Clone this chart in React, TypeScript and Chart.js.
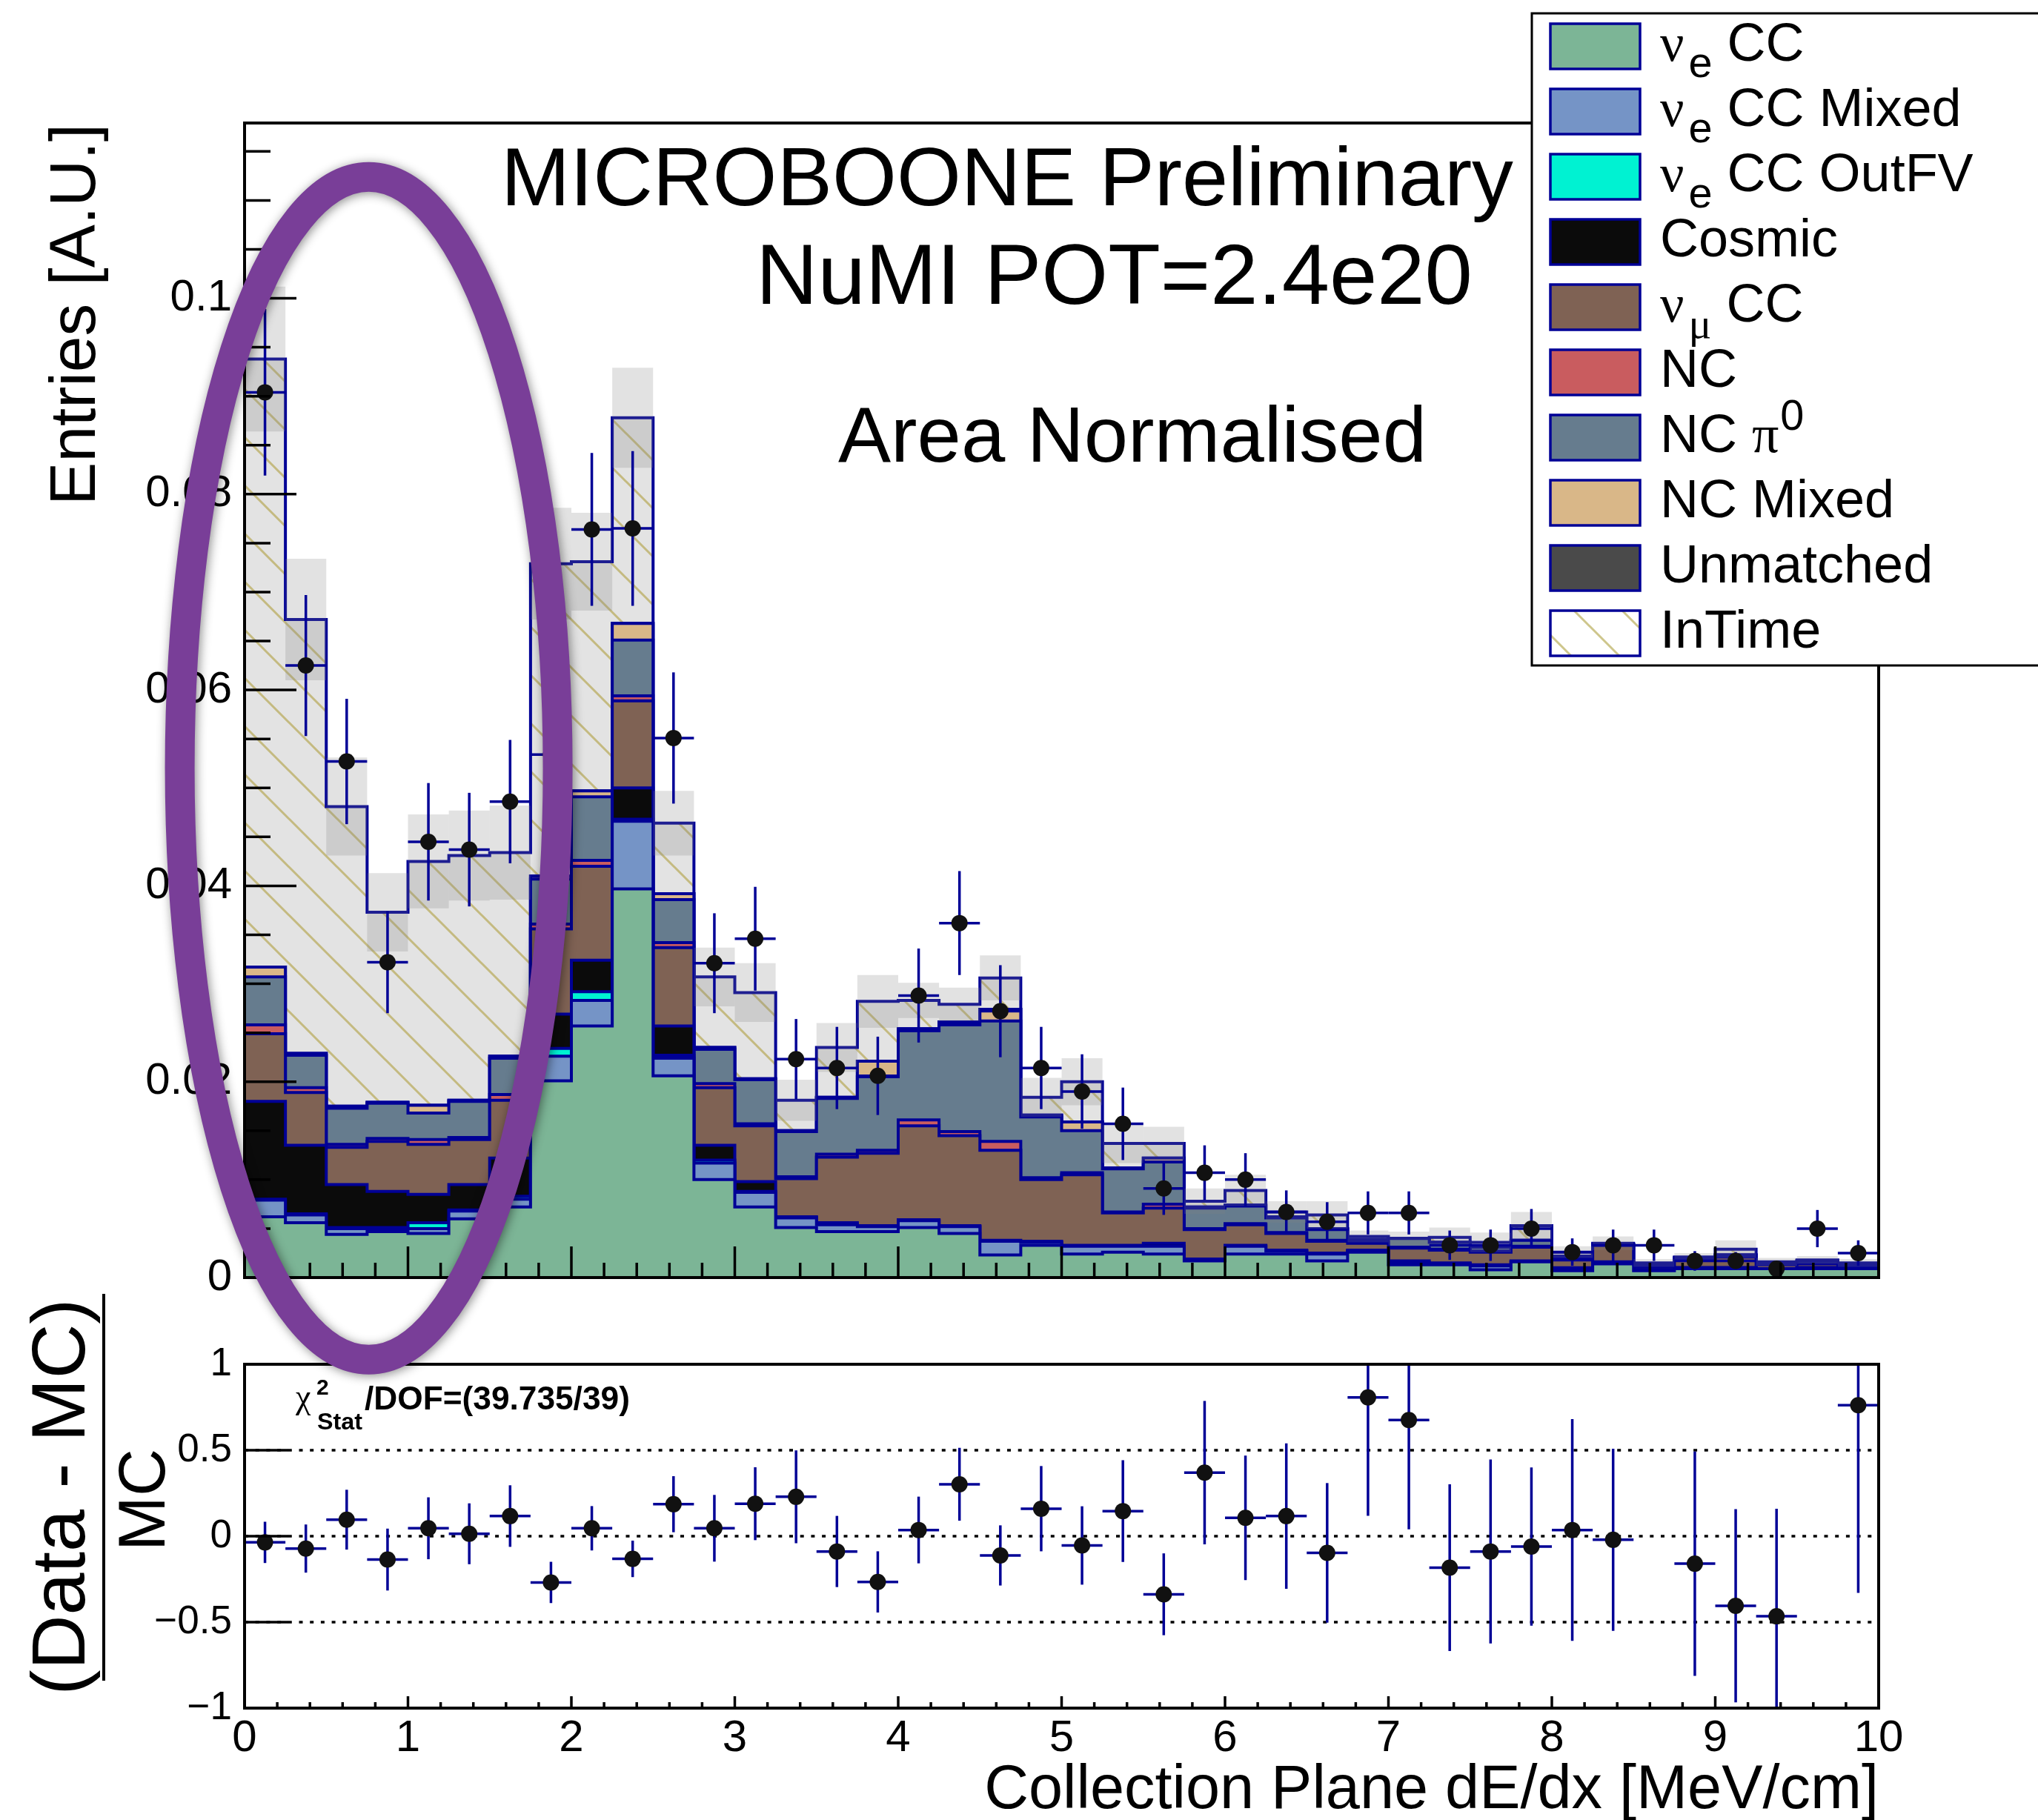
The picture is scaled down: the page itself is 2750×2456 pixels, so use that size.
import React, { useEffect, useRef } from "react";
import { Chart, registerables } from "chart.js";

Chart.register(...registerables);

const SANS = '"Liberation Sans", Arial, Helvetica, sans-serif';
const SERIF = '"Liberation Serif", "DejaVu Serif", "Times New Roman", serif';
const NAVY = "rgb(0,0,150)";

// dE/dx binning (MeV/cm)
const binEdges = [
  0, 0.25, 0.5, 0.75, 1, 1.25, 1.5, 1.75, 2, 2.25, 2.5, 2.75, 3, 3.25, 3.5, 3.75, 4, 4.25, 4.5, 4.75, 5,
  5.25, 5.5, 5.75, 6, 6.25, 6.5, 6.75, 7, 7.25, 7.5, 7.75, 8, 8.25, 8.5, 8.75, 9, 9.25, 9.5, 9.75, 10,
];

// Stacked MC components (area normalised)
const nueCC = [
  0.0062, 0.0056, 0.0044, 0.0047, 0.0045, 0.006, 0.0072, 0.0201, 0.0257, 0.0397, 0.0206, 0.01, 0.0072, 0.0051,
  0.0047, 0.0047, 0.0051, 0.0045, 0.0023, 0.0033, 0.0024, 0.0026, 0.0024, 0.0017, 0.0024, 0.0024, 0.0017, 0.0026,
  0.0013, 0.0013, 0.0008, 0.0016, 0.0007, 0.0014, 0.0007, 0.0009, 0.0009, 0.0009, 0.0009, 0.0009,
];
const nueCCMixed = [
  0.0017, 0.0008, 0.0006, 0.0003, 0.0005, 0.0008, 0.0008, 0.0025, 0.0026, 0.0069, 0.0018, 0.0017, 0.0015, 0.001,
  0.0007, 0.0005, 0.0007, 0.0007, 0.0014, 0.0003, 0.0008, 0.0006, 0.0008, 0.0001, 0.0008, 0.0003, 0.0007, 0.0001,
  0.0002, 0.0001, 0.0004, 0.0, 0.0002, 0.0001, 0.0001, 0.0001, 0.0001, 0.0, 0.0001, 0.0001,
];
const nueCCOutFV = [
  0.0001, 0.0001, 0.0001, 0.0001, 0.0006, 0.0001, 0.0003, 0.0008, 0.0009, 0.0002, 0.0003, 0.0003, 0.0001, 0, 0, 0,
  0, 0, 0, 0, 0, 0, 0, 0, 0, 0, 0, 0, 0, 0, 0, 0, 0, 0, 0, 0, 0, 0, 0, 0,
];
const cosmic = [
  0.01, 0.007, 0.0044, 0.0037, 0.0029, 0.0026, 0.0039, 0.0035, 0.0032, 0.0032, 0.003, 0.0015, 0.001, 0.0001, 0.0002,
  0.0001, 0.0001, 0.0001, 0.0001, 0.0001, 0.0001, 0.0001, 0.0003, 0.0001, 0.0001, 0.0001, 0.0001, 0.0001, 0.0002,
  0.0001, 0.0001, 0.0001, 0.0001, 0.0001, 0, 0, 0, 0, 0, 0,
];
const numuCC = [
  0.0069, 0.0054, 0.0038, 0.0051, 0.0051, 0.0046, 0.0059, 0.0087, 0.0096, 0.0089, 0.008, 0.0059, 0.0057, 0.0039,
  0.0067, 0.0074, 0.0096, 0.0092, 0.0092, 0.0063, 0.0072, 0.0033, 0.0036, 0.003, 0.0021, 0.0017, 0.0012, 0.0007,
  0.0013, 0.0013, 0.0013, 0.0014, 0.0008, 0.0017, 0.0003, 0.0008, 0.0011, 0.0004, 0.0004, 0.0002,
];
const nc = [
  0.0009, 0.0005, 0.0003, 0.0003, 0.0005, 0.0002, 0.0006, 0.0005, 0.0006, 0.0005, 0.0005, 0.0004, 0.0002, 0.0002,
  0.0003, 0.0003, 0.0006, 0.0004, 0.0009, 0.0002, 0.0002, 0.0001, 0.0004, 0.0001, 0.0001, 0.0001, 0.0001, 0.0001,
  0.0001, 0.0001, 0.0001, 0.0001, 0.0001, 0, 0, 0, 0, 0, 0, 0,
];
const ncPi0 = [
  0.0049, 0.0033, 0.0037, 0.0036, 0.0027, 0.0037, 0.0037, 0.0046, 0.0065, 0.0057, 0.0044, 0.0035, 0.0045, 0.0046,
  0.0057, 0.0075, 0.0091, 0.0109, 0.0123, 0.0062, 0.0043, 0.0044, 0.0043, 0.0021, 0.0018, 0.0015, 0.0011, 0.0002,
  0.0009, 0.0007, 0.0004, 0.0006, 0.0003, 0.0001, 0.0002, 0.0002, 0.0002, 0.0002, 0.0003, 0.0002,
];
const ncMixed = [
  0.001, 0.0002, 0.0002, 0.0001, 0.0008, 0.0001, 0.0002, 0.0003, 0.0006, 0.0017, 0.0006, 0.0002, 0.0001, 0.0001,
  0.0001, 0.0016, 0.0002, 0.0003, 0.0012, 0.0002, 0.0009, 0.0001, 0.0004, 0.0001, 0.0001, 0.0001, 0.0001, 0.0001,
  0, 0, 0, 0, 0, 0, 0, 0, 0, 0, 0, 0,
];
const unmatched = [
  0, 0, 0, 0, 0, 0, 0, 0, 0, 0, 0, 0, 0, 0, 0, 0, 0, 0, 0, 0, 0, 0, 0, 0, 0, 0, 0, 0, 0, 0, 0, 0, 0, 0, 0, 0, 0, 0,
  0, 0,
];
const inTime = [
  0.0621, 0.0443, 0.0306, 0.0194, 0.0249, 0.025, 0.0208, 0.0319, 0.0234, 0.021, 0.0072, 0.0072, 0.0088, 0.0031,
  0.0051, 0.0061, 0.0029, 0.0018, 0.0032, 0.0018, 0.0041, 0.0025, 0.0015, 0.0006, 0.0015, 0.0005, 0.0014, 0.0003,
  0.0, 0.0005, 0.0005, 0.0015, 0.0004, 0.0001, 0.0002, 0.0001, 0.0006, 0.0001, 0.0001, 0.0001,
];

// MC statistical uncertainty on the total
const mcStatErr = [
  0.0074, 0.0062, 0.005, 0.004, 0.0048, 0.0046, 0.0048, 0.0057, 0.005, 0.0051, 0.0033, 0.003, 0.003, 0.0021, 0.0025,
  0.0027, 0.0018, 0.0017, 0.0023, 0.002, 0.0024, 0.002, 0.0017, 0.0013, 0.0016, 0.0011, 0.0014, 0.0006, 0.0007,
  0.001, 0.001, 0.0014, 0.0006, 0.0007, 0.0004, 0.0004, 0.0009, 0.0004, 0.0004, 0.0004,
];

// Data
const dataValues = [
  0.0904, 0.0625, 0.0527, 0.0322, 0.0445, 0.0437, 0.0486, 0.0534, 0.0764, 0.0765, 0.0551, 0.0321, 0.0346, 0.0223,
  0.0214, 0.0206, 0.0288, 0.0362, 0.0272, 0.0214, 0.019, 0.0157, 0.0091, 0.0107, 0.01, 0.0067, 0.0057, 0.0066,
  0.0066, 0.0033, 0.0033, 0.005, 0.0026, 0.0033, 0.0033, 0.0017, 0.0017, 0.0009, 0.005, 0.0025,
];
const dataErrors = [
  0.0085, 0.0072, 0.0064, 0.0052, 0.006, 0.0058, 0.0063, 0.0066, 0.0078, 0.0079, 0.0067, 0.0051, 0.0053, 0.0041,
  0.0042, 0.004, 0.0048, 0.0053, 0.0047, 0.0042, 0.0038, 0.0037, 0.0027, 0.0028, 0.0027, 0.0022, 0.002, 0.0022,
  0.0022, 0.0015, 0.0016, 0.002, 0.0014, 0.0016, 0.0016, 0.001, 0.0009, 0.0007, 0.0019, 0.0013,
];

// (Data - MC) / MC
const ratioValues = [
  -0.036, -0.072, 0.096, -0.136, 0.046, 0.014, 0.117, -0.269, 0.046, -0.132, 0.186, 0.046, 0.189, 0.229, -0.089,
  -0.266, 0.036, 0.302, -0.112, 0.16, -0.054, 0.146, -0.338, 0.37, 0.107, 0.117, -0.097, 0.807, 0.676, -0.183,
  -0.089, -0.06, 0.036, -0.021, null, -0.16, -0.405, -0.466, null, 0.762,
];
const ratioErrors = [
  0.12, 0.14, 0.174, 0.18, 0.18, 0.177, 0.179, 0.12, 0.129, 0.106, 0.163, 0.194, 0.212, 0.27, 0.207, 0.178, 0.194,
  0.212, 0.175, 0.248, 0.228, 0.296, 0.238, 0.417, 0.362, 0.423, 0.406, 0.688, 0.636, 0.485, 0.535, 0.46, 0.645,
  0.53, null, 0.652, 0.562, 0.626, null, 1.092,
];

// Axis ticks
const yTopMax = 0.1179;
const yTopTickValues = [0, 0.02, 0.04, 0.06, 0.08, 0.1];
const yTopTickLabels = ["0", "0.02", "0.04", "0.06", "0.08", "0.1"];
const yRatioTickValues = [-1, -0.5, 0, 0.5, 1];
const yRatioTickLabels = ["\u22121", "\u22120.5", "0", "0.5", "1"];
const xTickValues = [0, 1, 2, 3, 4, 5, 6, 7, 8, 9, 10];
const xTickLabels = ["0", "1", "2", "3", "4", "5", "6", "7", "8", "9", "10"];
const ratioRefLines = [1, 0.5, 0, -0.5];

type Seg = { t: string; serif?: boolean; pos?: "sub" | "sup" };

const stackLayers: { name: string; values: number[]; color: string | null; legend: Seg[] }[] = [
  { name: "nueCC", values: nueCC, color: "#7cb596", legend: [{ t: "ν", serif: true }, { t: "e", pos: "sub" }, { t: " CC" }] },
  { name: "nueCCMixed", values: nueCCMixed, color: "#7594c6", legend: [{ t: "ν", serif: true }, { t: "e", pos: "sub" }, { t: " CC Mixed" }] },
  { name: "nueCCOutFV", values: nueCCOutFV, color: "#00f2d2", legend: [{ t: "ν", serif: true }, { t: "e", pos: "sub" }, { t: " CC OutFV" }] },
  { name: "cosmic", values: cosmic, color: "#0b0b0b", legend: [{ t: "Cosmic" }] },
  { name: "numuCC", values: numuCC, color: "#7f6254", legend: [{ t: "ν", serif: true }, { t: "μ", serif: true, pos: "sub" }, { t: " CC" }] },
  { name: "nc", values: nc, color: "#c95c5f", legend: [{ t: "NC" }] },
  { name: "ncPi0", values: ncPi0, color: "#667c8e", legend: [{ t: "NC " }, { t: "π", serif: true }, { t: "0", pos: "sup" }] },
  { name: "ncMixed", values: ncMixed, color: "#d9b788", legend: [{ t: "NC Mixed" }] },
  { name: "unmatched", values: unmatched, color: "#4a4a4a", legend: [{ t: "Unmatched" }] },
  { name: "inTime", values: inTime, color: null, legend: [{ t: "InTime" }] },
];

const nBins = binEdges.length - 1;
const binCenters = binEdges.slice(0, -1).map((e, i) => (e + binEdges[i + 1]) / 2);

function cumulativeStacks(): number[][] {
  const out: number[][] = [];
  let run = new Array(nBins).fill(0);
  for (const layer of stackLayers) {
    run = run.map((v: number, i: number) => v + layer.values[i]);
    out.push(run);
  }
  return out;
}

// histogram outline points for a stepped line (value holds from each low edge)
function stepPoints(vals: number[]) {
  const pts = [{ x: binEdges[0], y: 0 }];
  vals.forEach((v, i) => pts.push({ x: binEdges[i], y: v }));
  pts.push({ x: binEdges[nBins], y: vals[nBins - 1] });
  pts.push({ x: binEdges[nBins], y: 0 });
  return pts;
}

function makeHatch(bg: string, line: string, period: number, width: number) {
  const c = document.createElement("canvas");
  c.width = period;
  c.height = period;
  const g = c.getContext("2d")!;
  if (bg) {
    g.fillStyle = bg;
    g.fillRect(0, 0, period, period);
  }
  g.strokeStyle = line;
  g.lineWidth = width;
  g.beginPath();
  for (const k of [-period, 0, period]) {
    g.moveTo(k - 2, -2);
    g.lineTo(k + period + 2, period + 2);
  }
  g.stroke();
  return g.createPattern(c, "repeat")!;
}

function fitFont(ctx: CanvasRenderingContext2D, text: string, width: number, size: number, weight = "", family = SANS) {
  ctx.font = `${weight} ${size}px ${family}`;
  const w = ctx.measureText(text).width;
  const s = (size * width) / w;
  ctx.font = `${weight} ${s}px ${family}`;
  return s;
}

function line(ctx: CanvasRenderingContext2D, x0: number, y0: number, x1: number, y1: number) {
  ctx.beginPath();
  ctx.moveTo(x0, y0);
  ctx.lineTo(x1, y1);
  ctx.stroke();
}

function drawSegments(ctx: CanvasRenderingContext2D, segs: Seg[], x: number, baseline: number, size: number) {
  let cx = x;
  for (const s of segs) {
    const sz = s.pos ? size * 0.8 : size;
    ctx.font = `${sz}px ${s.serif ? SERIF : SANS}`;
    let by = baseline;
    if (s.pos === "sub") {
      by = baseline + 22;
      cx += 6;
    } else if (s.pos === "sup") {
      by = baseline - 30;
      cx += 2;
    }
    ctx.fillText(s.t, cx, by);
    cx += ctx.measureText(s.t).width;
  }
}

export default function App() {
  const topRef = useRef<HTMLCanvasElement>(null);
  const ratioRef = useRef<HTMLCanvasElement>(null);

  useEffect(() => {
    const hatchPlot = makeHatch("#e3e3e3", "rgb(196,186,128)", 65, 3);
    const hatchLegend = makeHatch("#ffffff", "rgb(206,198,140)", 65, 3);
    const cumul = cumulativeStacks();
    const total = cumul[cumul.length - 1];

    const layerDatasets = stackLayers.map((layer, k) => ({
      type: "line",
      label: layer.name,
      data: stepPoints(cumul[k]),
      stepped: "before",
      fill: "origin",
      backgroundColor: layer.color ?? hatchPlot,
      borderColor: NAVY,
      borderWidth: 4,
      pointRadius: 0,
      order: 2 + k,
    }));
    const bandDataset = {
      type: "bar",
      label: "mcStat",
      data: binCenters.map((c, i) => ({ x: c, y: [total[i] - mcStatErr[i], total[i] + mcStatErr[i]] })),
      backgroundColor: "rgba(128,128,128,0.23)",
      borderWidth: 0,
      barPercentage: 1,
      categoryPercentage: 1,
      inflateAmount: 0,
      order: 1,
    };
    const dataDataset = {
      type: "line",
      label: "data",
      data: binCenters.map((c, i) => ({ x: c, y: dataValues[i] })),
      showLine: false,
      pointRadius: 11,
      pointBackgroundColor: "#111",
      pointBorderWidth: 0,
      pointBorderColor: "#111",
      order: 0,
    };
    const DATA_INDEX = layerDatasets.length + 1;

    const topDecor = {
      id: "topDecor",
      beforeDatasetDraw(chart: any, args: any) {
        if (args.index !== DATA_INDEX) return;
        const { ctx, scales } = chart;
        const { x, y } = scales;
        ctx.save();
        ctx.strokeStyle = NAVY;
        ctx.lineWidth = 3.5;
        dataValues.forEach((v, i) => {
          const px = x.getPixelForValue(binCenters[i]);
          const py = y.getPixelForValue(v);
          line(ctx, px, y.getPixelForValue(v + dataErrors[i]), px, y.getPixelForValue(v - dataErrors[i]));
          line(ctx, x.getPixelForValue(binEdges[i]), py, x.getPixelForValue(binEdges[i + 1]), py);
        });
        ctx.restore();
      },
      afterDatasetsDraw(chart: any) {
        const { ctx, chartArea: a, scales } = chart;
        const { x, y } = scales;
        ctx.save();
        ctx.strokeStyle = "#000";
        ctx.lineWidth = 3.5;
        for (let k = 0; k <= 50; k++) {
          const px = x.getPixelForValue(k * 0.2);
          line(ctx, px, a.bottom, px, a.bottom - (k % 5 === 0 ? 42 : 20));
        }
        for (let k = 0; k * 0.005 <= yTopMax; k++) {
          const py = y.getPixelForValue(k * 0.005);
          line(ctx, a.left, py, a.left + (k % 4 === 0 ? 70 : 35), py);
        }
        ctx.lineWidth = 4;
        ctx.strokeRect(a.left, a.top, a.right - a.left, a.bottom - a.top);
        ctx.restore();
      },
      afterDraw(chart: any) {
        const { ctx, scales } = chart;
        const { x, y } = scales;
        ctx.save();
        ctx.fillStyle = "#000";
        ctx.textBaseline = "alphabetic";
        ctx.textAlign = "left";
        fitFont(ctx, "MICROBOONE Preliminary", 1366, 110);
        ctx.fillText("MICROBOONE Preliminary", 676, 277);
        fitFont(ctx, "NuMI POT=2.4e20", 967, 110);
        ctx.fillText("NuMI POT=2.4e20", 1020, 410);
        fitFont(ctx, "Area Normalised", 794, 106);
        ctx.fillText("Area Normalised", 1131, 623);

        // y axis title
        ctx.save();
        ctx.translate(128, 167);
        ctx.rotate(-Math.PI / 2);
        ctx.textAlign = "right";
        fitFont(ctx, "Entries [A.U.]", 515, 88);
        ctx.fillText("Entries [A.U.]", 0, 0);
        ctx.restore();

        // legend
        ctx.fillStyle = "#fff";
        ctx.fillRect(2067, 18, 800, 880);
        ctx.strokeStyle = "#000";
        ctx.lineWidth = 3;
        ctx.strokeRect(2067, 18, 800, 880);
        stackLayers.forEach((layer, i) => {
          const cy = 62 + 88 * i;
          ctx.fillStyle = layer.color ?? hatchLegend;
          ctx.fillRect(2092, cy - 30, 121, 61);
          ctx.strokeStyle = NAVY;
          ctx.lineWidth = 3.5;
          ctx.strokeRect(2092, cy - 30, 121, 61);
          ctx.fillStyle = "#000";
          drawSegments(ctx, layer.legend, 2240, cy + 20, 72);
        });

        // highlighted low dE/dx region
        ctx.save();
        ctx.shadowColor = "rgba(0,0,0,0.45)";
        ctx.shadowBlur = 14;
        ctx.shadowOffsetX = 2;
        ctx.shadowOffsetY = 2;
        ctx.strokeStyle = "rgb(121,62,152)";
        ctx.lineWidth = 40;
        ctx.beginPath();
        ctx.ellipse(x.getPixelForValue(0.76), y.getPixelForValue(0.052), 255, 798, 0, 0, Math.PI * 2);
        ctx.stroke();
        ctx.restore();
        ctx.restore();
      },
    };

    const topChart = new Chart(topRef.current!, {
      type: "line",
      data: { datasets: [...layerDatasets, bandDataset, dataDataset] as any },
      options: {
        animation: false,
        responsive: false,
        devicePixelRatio: 1,
        events: [],
        layout: { padding: { left: 0, top: 166, right: 215, bottom: 156 } },
        plugins: { legend: { display: false }, tooltip: { enabled: false } },
        scales: {
          x: {
            type: "linear",
            min: 0,
            max: 10,
            offset: false,
            grid: { display: false, drawTicks: false },
            border: { display: false },
            ticks: { display: false },
            afterFit: (s: any) => {
              s.height = 0;
            },
          },
          y: {
            type: "linear",
            min: 0,
            max: yTopMax,
            grid: { display: false, drawTicks: false },
            border: { display: false },
            ticks: {
              color: "#000",
              padding: 17,
              font: { family: SANS, size: 60 },
              callback: (_v: any, i: number) => yTopTickLabels[i],
            },
            afterBuildTicks: (s: any) => {
              s.ticks = yTopTickValues.map((value) => ({ value }));
            },
            afterFit: (s: any) => {
              s.width = 330;
            },
          },
        },
      } as any,
      plugins: [topDecor],
    });

    const ratioDecor = {
      id: "ratioDecor",
      beforeDatasetsDraw(chart: any) {
        const { ctx, chartArea: a, scales } = chart;
        ctx.save();
        ctx.strokeStyle = "#000";
        ctx.lineWidth = 3.5;
        ctx.setLineDash([5, 9.7]);
        for (const v of ratioRefLines) {
          const py = scales.y.getPixelForValue(v);
          line(ctx, a.left, py, a.right, py);
        }
        ctx.restore();
      },
      beforeDatasetDraw(chart: any, args: any) {
        if (args.index !== 0) return;
        const { ctx, chartArea: a, scales } = chart;
        const { x, y } = scales;
        ctx.save();
        ctx.beginPath();
        ctx.rect(a.left, a.top, a.right - a.left, a.bottom - a.top);
        ctx.clip();
        ctx.strokeStyle = NAVY;
        ctx.lineWidth = 3.5;
        ratioValues.forEach((v, i) => {
          const e = ratioErrors[i];
          if (v === null || e === null) return;
          const px = x.getPixelForValue(binCenters[i]);
          const py = y.getPixelForValue(v);
          line(ctx, px, y.getPixelForValue(v + e), px, y.getPixelForValue(v - e));
          line(ctx, x.getPixelForValue(binEdges[i]), py, x.getPixelForValue(binEdges[i + 1]), py);
        });
        ctx.restore();
      },
      afterDatasetsDraw(chart: any) {
        const { ctx, chartArea: a, scales } = chart;
        const { x, y } = scales;
        ctx.save();
        ctx.strokeStyle = "#000";
        ctx.lineWidth = 3.5;
        for (let k = 0; k <= 50; k++) {
          const px = x.getPixelForValue(k * 0.2);
          line(ctx, px, a.bottom, px, a.bottom - (k % 5 === 0 ? 16 : 8));
        }
        for (const v of [-0.5, 0, 0.5]) {
          const py = y.getPixelForValue(v);
          line(ctx, a.left, py, a.left + 59, py);
        }
        ctx.lineWidth = 4;
        ctx.strokeRect(a.left, a.top, a.right - a.left, a.bottom - a.top);
        ctx.restore();
      },
      afterDraw(chart: any) {
        const { ctx, chartArea: a } = chart;
        ctx.save();
        ctx.fillStyle = "#000";
        ctx.textBaseline = "alphabetic";

        // chi-square summary
        ctx.textAlign = "left";
        ctx.font = `46px ${SERIF}`;
        ctx.fillText("χ", 399, 170);
        ctx.font = `bold 30px ${SANS}`;
        ctx.fillText("2", 427, 152);
        fitFont(ctx, "Stat", 61, 31, "bold");
        ctx.fillText("Stat", 428, 199);
        fitFont(ctx, "/DOF=(39.735/39)", 358, 44, "bold");
        ctx.fillText("/DOF=(39.735/39)", 492, 172);

        // x axis title
        ctx.textAlign = "right";
        fitFont(ctx, "Collection Plane dE/dx [MeV/cm]", 1207, 84);
        ctx.fillText("Collection Plane dE/dx [MeV/cm]", a.right, 710);

        // y axis title as a fraction
        ctx.save();
        ctx.translate(114, 290);
        ctx.rotate(-Math.PI / 2);
        ctx.textAlign = "center";
        fitFont(ctx, "(Data - MC)", 535, 98);
        ctx.fillText("(Data - MC)", 0, 0);
        ctx.restore();
        ctx.save();
        ctx.translate(222, 294);
        ctx.rotate(-Math.PI / 2);
        ctx.textAlign = "center";
        fitFont(ctx, "MC", 138, 96);
        ctx.fillText("MC", 0, 0);
        ctx.restore();
        ctx.lineWidth = 4;
        line(ctx, 140, 16, 140, 538);
        ctx.restore();
      },
    };

    const ratioChart = new Chart(ratioRef.current!, {
      type: "line",
      data: {
        datasets: [
          {
            label: "ratio",
            data: binCenters.map((c, i) => ({ x: c, y: ratioValues[i] })),
            showLine: false,
            pointRadius: 11,
            pointBackgroundColor: "#111",
            pointBorderWidth: 0,
            pointBorderColor: "#111",
          },
        ] as any,
      },
      options: {
        animation: false,
        responsive: false,
        devicePixelRatio: 1,
        events: [],
        layout: { padding: { left: 0, top: 111, right: 215, bottom: 0 } },
        plugins: { legend: { display: false }, tooltip: { enabled: false } },
        scales: {
          x: {
            type: "linear",
            min: 0,
            max: 10,
            offset: false,
            grid: { display: false, drawTicks: false },
            border: { display: false },
            ticks: {
              color: "#000",
              padding: 5,
              autoSkip: false,
              maxRotation: 0,
              minRotation: 0,
              font: { family: SANS, size: 60 },
              callback: (_v: any, i: number) => xTickLabels[i],
            },
            afterBuildTicks: (s: any) => {
              s.ticks = xTickValues.map((value) => ({ value }));
            },
            afterFit: (s: any) => {
              s.height = 151;
            },
          },
          y: {
            type: "linear",
            min: -1,
            max: 1,
            grid: { display: false, drawTicks: false },
            border: { display: false },
            ticks: {
              color: "#000",
              padding: 17,
              font: { family: SANS, size: 53 },
              callback: (_v: any, i: number) => yRatioTickLabels[i],
            },
            afterBuildTicks: (s: any) => {
              s.ticks = yRatioTickValues.map((value) => ({ value }));
            },
            afterFit: (s: any) => {
              s.width = 330;
            },
          },
        },
      } as any,
      plugins: [ratioDecor],
    });

    return () => {
      topChart.destroy();
      ratioChart.destroy();
    };
  }, []);

  return (
    <div
      style={{
        position: "absolute",
        left: 0,
        top: 0,
        width: 2750,
        height: 2456,
        background: "#fff",
        overflow: "hidden",
      }}
    >
      <canvas
        ref={ratioRef}
        width={2750}
        height={726}
        style={{ position: "absolute", left: 0, top: 1730, zIndex: 1 }}
      />
      <canvas
        ref={topRef}
        width={2750}
        height={1880}
        style={{ position: "absolute", left: 0, top: 0, zIndex: 2 }}
      />
    </div>
  );
}
